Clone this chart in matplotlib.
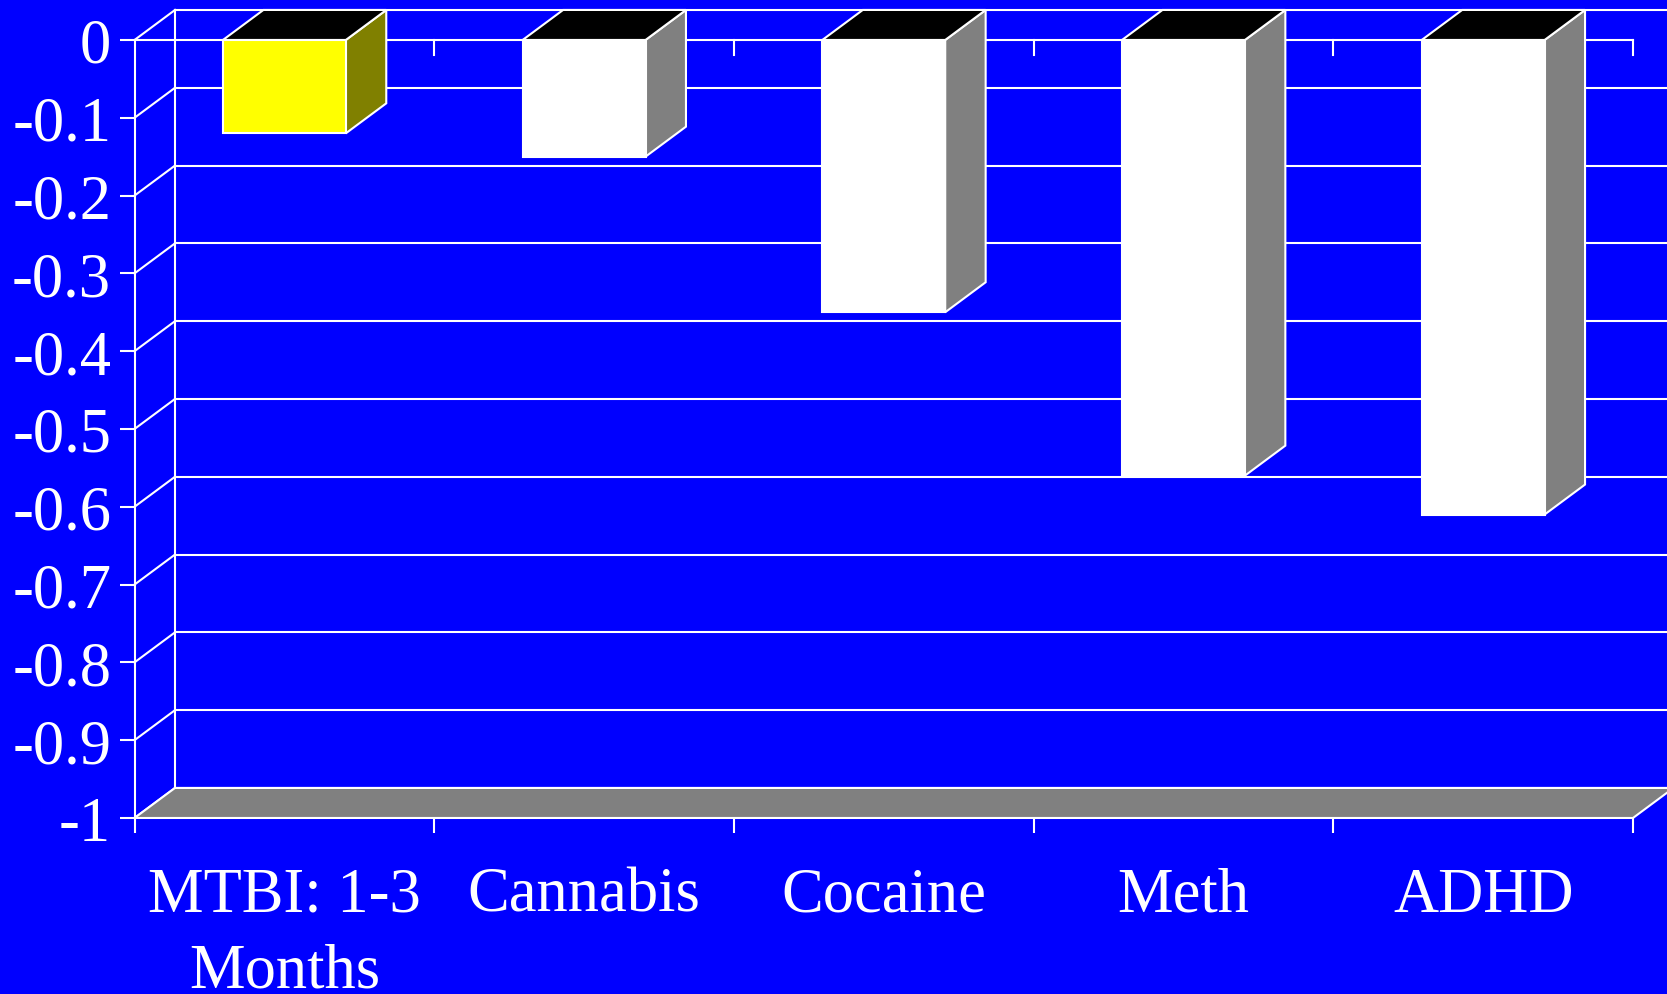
import matplotlib
matplotlib.use("Agg")
import matplotlib.pyplot as plt
from matplotlib.patches import Polygon

# Data
categories = ["MTBI: 1-3\nMonths", "Cannabis", "Cocaine", "Meth", "ADHD"]
values = [-0.12, -0.15, -0.35, -0.56, -0.61]
front_colors = ["#FFFF00", "#FFFFFF", "#FFFFFF", "#FFFFFF", "#FFFFFF"]
side_colors = ["#808000", "#808080", "#808080", "#808080", "#808080"]
y_ticks = [0, -0.1, -0.2, -0.3, -0.4, -0.5, -0.6, -0.7, -0.8, -0.9, -1]
y_tick_labels = ["0", "-0.1", "-0.2", "-0.3", "-0.4", "-0.5",
                 "-0.6", "-0.7", "-0.8", "-0.9", "-1"]

# Style
BG = "#0000FF"
EDGE = "white"
LW = 1.5
BAR_W = 0.41          # bar width in category units
DX, DY = 0.135, 0.0386  # depth offset of the 3-D box (x in categories, y in values)
FONT = "Liberation Serif"
YMIN, YMAX = -1.0, 0.0
n = len(categories)

fig = plt.figure(figsize=(16.67, 9.95), dpi=100, facecolor=BG)
ax = fig.add_axes([0.0807, 0.1769, 0.8989, 0.7819])
ax.set_xlim(0, n)
ax.set_ylim(YMIN, YMAX)
ax.patch.set_visible(False)
for s in ax.spines.values():
    s.set_visible(False)

line_kw = dict(color=EDGE, lw=LW, clip_on=False, solid_capstyle="projecting")

# Back wall: gridlines, left edge, and the diagonals joining it to the front axis
for v in y_ticks:
    ax.plot([DX, n + DX], [v + DY, v + DY], zorder=1, **line_kw)
    ax.plot([0, DX], [v, v + DY], zorder=1, **line_kw)
ax.plot([DX, DX], [YMAX + DY, YMIN + DY], zorder=1, **line_kw)

# Floor
floor = Polygon([(0, YMIN), (n, YMIN), (n + DX, YMIN + DY), (DX, YMIN + DY)],
                closed=True, facecolor="#808080", edgecolor=EDGE, lw=LW,
                clip_on=False, zorder=2)
ax.add_patch(floor)

# Front value axis and the zero line with its downward ticks
ax.plot([0, 0], [YMAX, YMIN], zorder=3, **line_kw)
ax.plot([0, n], [0, 0], zorder=3, **line_kw)
tick_len = 0.0193
for k in range(1, n + 1):
    ax.plot([k, k], [0, -tick_len], zorder=3, **line_kw)

# 3-D bars
for i, (v, fc, sc) in enumerate(zip(values, front_colors, side_colors)):
    x0 = i + 0.5 - BAR_W / 2
    x1 = i + 0.5 + BAR_W / 2
    side = Polygon([(x1, 0), (x1 + DX, DY), (x1 + DX, v + DY), (x1, v)],
                   closed=True, facecolor=sc, edgecolor=EDGE, lw=LW,
                   clip_on=False, zorder=4, joinstyle="miter")
    top = Polygon([(x0, 0), (x1, 0), (x1 + DX, DY), (x0 + DX, DY)],
                  closed=True, facecolor="black", edgecolor=EDGE, lw=LW,
                  clip_on=False, zorder=4, joinstyle="miter")
    front = Polygon([(x0, 0), (x1, 0), (x1, v), (x0, v)],
                    closed=True, facecolor=fc, edgecolor=EDGE, lw=LW,
                    clip_on=False, zorder=5, joinstyle="miter")
    for p in (side, top, front):
        ax.add_patch(p)

# Value axis ticks and labels
ax.set_yticks(y_ticks)
ax.set_yticklabels(y_tick_labels)
ax.tick_params(axis="y", which="major", direction="out", length=10.8,
               width=LW, color=EDGE, pad=6, labelsize=45, labelcolor=EDGE)
for lab in ax.get_yticklabels():
    lab.set_fontfamily(FONT)

# Category axis: boundary ticks below the floor, labels centred under the bars
ax.set_xticks(range(n + 1))
ax.set_xticklabels([""] * (n + 1))
ax.tick_params(axis="x", which="major", direction="out", length=10.8,
               width=LW, color=EDGE)
for i, name in enumerate(categories):
    ax.annotate(name, xy=(i + 0.5, YMIN), xytext=(0, -35),
                textcoords="offset points", ha="center", va="top",
                fontsize=45, color=EDGE, family=FONT, linespacing=1.4,
                annotation_clip=False)

fig.savefig("out.png", dpi=100, facecolor=BG)
